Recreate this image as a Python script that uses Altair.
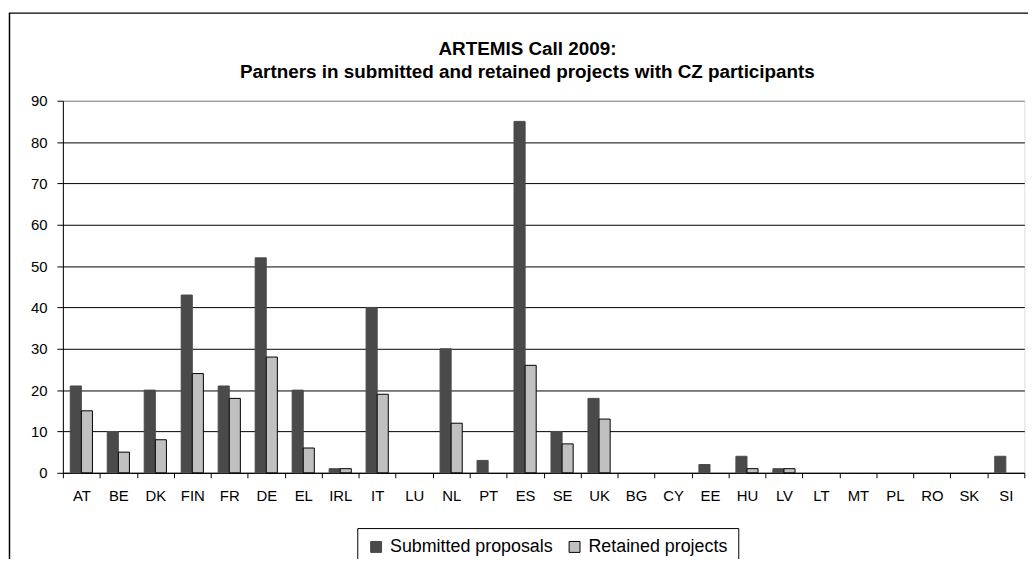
import altair as alt
import pandas as pd

countries = ["AT", "BE", "DK", "FIN", "FR", "DE", "EL", "IRL", "IT", "LU", "NL", "PT", "ES",
             "SE", "UK", "BG", "CY", "EE", "HU", "LV", "LT", "MT", "PL", "RO", "SK", "SI"]
submitted = [21, 10, 20, 43, 21, 52, 20, 1, 40, 0, 30, 3, 85, 10, 18, 0, 0, 2, 4, 1, 0, 0, 0, 0, 0, 4]
retained = [15, 5, 8, 24, 18, 28, 6, 1, 19, 0, 12, 0, 26, 7, 13, 0, 0, 0, 1, 1, 0, 0, 0, 0, 0, 0]
series = ["Submitted proposals", "Retained projects"]
y_ticks = [0, 10, 20, 30, 40, 50, 60, 70, 80, 90]
title_lines = ["ARTEMIS Call 2009:", "Partners in submitted and retained projects with CZ participants"]

rows = []
for c, s, r in zip(countries, submitted, retained):
    rows.append({"country": c, "series": series[0], "value": s})
    rows.append({"country": c, "series": series[1], "value": r})
df = pd.DataFrame(rows)

FONT = "Liberation Sans"

legend_cfg = dict(title=None, orient="none", legendX=296.7, legendY=430.7,
                  direction="horizontal", strokeColor="black", fillColor="white",
                  padding=10, labelFontSize=18, labelFont=FONT, labelColor="black",
                  labelLimit=0, symbolType="square", symbolSize=121, symbolStrokeWidth=1,
                  labelOffset=5, columnPadding=12)

bars = alt.Chart(df).transform_filter("datum.value > 0").mark_bar(strokeWidth=1).encode(
    x=alt.X("country:N", sort=countries,
            scale=alt.Scale(domain=countries, paddingInner=0, paddingOuter=0),
            axis=alt.Axis(title=None, labelAngle=0, tickBand="extent", grid=False,
                          domainColor="black", tickColor="black", tickSize=5,
                          labelFontSize=15, labelPadding=11, labelColor="black",
                          labelFont=FONT)),
    xOffset=alt.XOffset("series:N", sort=series,
                        scale=alt.Scale(domain=series, paddingInner=0, paddingOuter=0.667)),
    y=alt.Y("value:Q", scale=alt.Scale(domain=[0, 90], nice=False),
            axis=alt.Axis(title=None, values=y_ticks, domainColor="black", tickColor="black",
                          tickSize=6, labelPadding=10, labelFontSize=15, labelColor="black",
                          labelFont=FONT, grid=True, gridWidth=1,
                          gridColor=alt.condition("datum.value == 90", alt.value("#808080"), alt.value("#000000")))),
    color=alt.Color("series:N", sort=series,
                    scale=alt.Scale(domain=series, range=["#4A4A4A", "#C0C0C0"]),
                    legend=alt.Legend(**legend_cfg)),
    stroke=alt.Stroke("series:N", sort=series,
                      scale=alt.Scale(domain=series, range=["#4A4A4A", "#000000"]),
                      legend=alt.Legend(**legend_cfg)),
)

frame = alt.Chart(alt.Data(values=[{}])).mark_rect(fill=None, stroke="black", strokeWidth=1.5).encode(
    x=alt.value(-53.8), x2=alt.value(990), y=alt.value(-88.3), y2=alt.value(490)
)

title = alt.Chart(alt.Data(values=[{"t": "\n".join(title_lines)}])).mark_text(
    font=FONT, fontSize=19, fontWeight="bold", color="black", align="center",
    baseline="alphabetic", lineBreak="\n", lineHeight=23
).encode(text="t:N", x=alt.value(468.2), y=alt.value(-45.6))

chart = alt.layer(frame, bars, title).properties(
    width=969, height=375,
    padding={"left": 55.3, "top": 91.3, "right": 3.7, "bottom": 85},
    autosize=alt.AutoSizeParams(type="none"),
).configure_view(stroke="#808080", strokeWidth=1).configure(font=FONT)

chart.save("out.html", embed_options={"renderer": "svg", "actions": False})
